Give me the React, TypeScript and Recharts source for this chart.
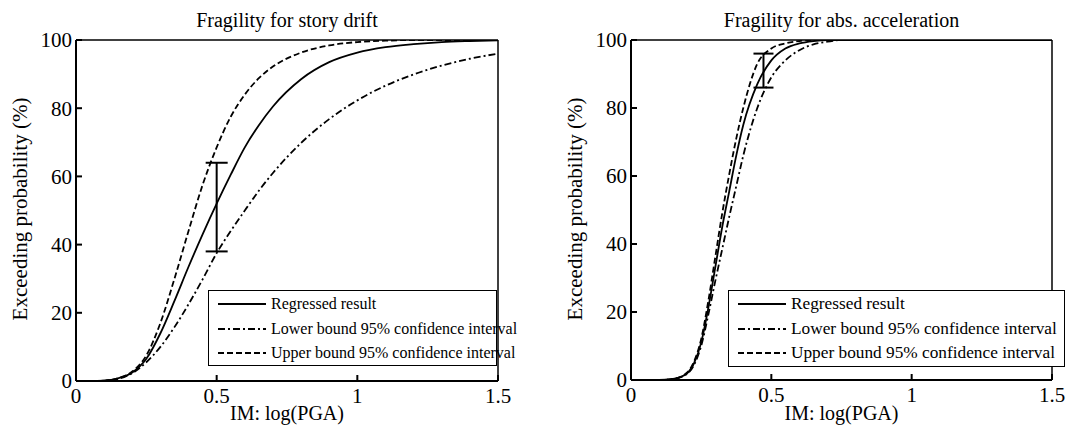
import { ComposedChart, Line, Scatter, ErrorBar, XAxis, YAxis, Legend } from 'recharts';

const FONT = '"Liberation Serif", "Times New Roman", serif';

// story drift panel
const driftIM = [0, 0.05, 0.1, 0.15, 0.2, 0.25, 0.3, 0.35, 0.4, 0.45, 0.5, 0.55, 0.6, 0.65, 0.7, 0.8, 0.9, 1.0, 1.1, 1.2, 1.3, 1.4, 1.5];
const driftRegressed = [0, 0, 0.1, 0.8, 2.5, 6.5, 14, 23.5, 33.5, 43, 52, 60.5, 68.5, 75, 80.5, 88.5, 93.5, 96.3, 97.9, 98.8, 99.4, 99.7, 99.9];
const driftLower = [0, 0, 0.1, 0.6, 2.3, 5.5, 10, 15.8, 22.5, 29.8, 37.5, 44, 50, 55.8, 61, 69.8, 76.8, 82.3, 86.6, 89.9, 92.5, 94.5, 96];
const driftUpper = [0, 0, 0.1, 0.8, 2.8, 7.5, 17, 30, 44, 57.5, 68.5, 77.5, 84, 88.8, 92.2, 96.3, 98.4, 99.4, 99.8, 100, 100, 100, 100];
const driftErr = [{ x: 0.5, y: 51, err: [13, 13] }];

// abs. acceleration panel
const accelIM = [0, 0.05, 0.1, 0.15, 0.2, 0.225, 0.25, 0.275, 0.3, 0.325, 0.35, 0.375, 0.4, 0.45, 0.5, 0.55, 0.6, 0.65, 0.7, 0.75, 0.8, 1.0, 1.5];
const accelRegressed = [0, 0, 0, 0.3, 2, 5, 11, 21, 33, 45, 55.5, 66, 75, 87, 94, 97.5, 99, 99.7, 100, 100, 100, 100, 100];
const accelLower = [0, 0, 0, 0.3, 1.8, 4.5, 10, 19, 29, 38.5, 48, 57, 66, 80, 89, 94, 97, 98.7, 99.5, 100, 100, 100, 100];
const accelUpper = [0, 0, 0, 0.3, 2.2, 5.5, 12, 23, 36, 49, 60.5, 71, 80, 93, 97.5, 99, 99.7, 100, 100, 100, 100, 100, 100];
const accelErr = [{ x: 0.472, y: 91, err: [5, 5] }];

const xTicks = [0, 0.5, 1, 1.5];
const yTicks = [0, 20, 40, 60, 80, 100];

const seriesNames = ['Regressed result', 'Lower bound 95% confidence interval', 'Upper bound 95% confidence interval'];
const seriesDash = [undefined, '7 3 2 3', '6 3'];

const tickStyle = { fill: '#000', fontSize: 21, fontFamily: FONT };

function LegendBox({ width, height, fontSize }: { width: number; height: number; fontSize: number }) {
  return (
    <div style={{ width, height, boxSizing: 'border-box', border: '1.5px solid #000', background: '#fff', fontFamily: FONT, fontSize, padding: '1px 0 0 9px' }}>
      {seriesNames.map((n, i) => (
        <div key={n} style={{ display: 'flex', alignItems: 'center', height: 24.5, whiteSpace: 'nowrap' }}>
          <svg width={48} height={6} style={{ marginRight: 5, flexShrink: 0 }}>
            <line x1={0} y1={3} x2={48} y2={3} stroke="#000" strokeWidth={1.8} strokeDasharray={seriesDash[i]} />
          </svg>
          <span>{n}</span>
        </div>
      ))}
    </div>
  );
}

type PanelProps = {
  title: string;
  im: number[];
  reg: number[];
  low: number[];
  up: number[];
  err: { x: number; y: number; err: number[] }[];
  capWidth: number;
  left: number;
  width: number;
  plotLeft: number;
  plotRight: number;
  plotBottom: number;
  legendLeft: number;
  legendWidth: number;
  legendHeight: number;
  legendFont: number;
  yLabelX: number;
};

function Panel(p: PanelProps) {
  const rows = p.im.map((x, i) => ({ x, reg: p.reg[i], low: p.low[i], up: p.up[i] }));
  const cx = (p.plotLeft + p.plotRight) / 2;
  return (
    <div style={{ position: 'absolute', left: p.left, top: 0, width: p.width, height: 436, fontFamily: FONT }}>
      <div style={{ position: 'absolute', left: cx, top: 20, transform: 'translate(-50%,-50%)', fontSize: 20, whiteSpace: 'nowrap' }}>{p.title}</div>
      <div style={{ position: 'absolute', left: cx, top: 413, transform: 'translate(-50%,-50%)', fontSize: 20, whiteSpace: 'nowrap' }}>IM: log(PGA)</div>
      <div style={{ position: 'absolute', left: p.yLabelX, top: 209, transform: 'translate(-50%,-50%) rotate(-90deg)', fontSize: 21, whiteSpace: 'nowrap' }}>Exceeding probability (%)</div>
      <ComposedChart
        width={p.width}
        height={436}
        data={rows}
        margin={{ top: 39, right: p.width - p.plotRight - 1, bottom: 436 - p.plotBottom - 30, left: p.plotLeft - 60 }}
      >
        <XAxis dataKey="x" type="number" domain={[0, 1.5]} ticks={xTicks} height={30} tickSize={-6} tickMargin={13} stroke="#000" strokeWidth={2} tick={tickStyle} allowDataOverflow />
        <XAxis xAxisId="top" orientation="top" type="number" domain={[0, 1.5]} ticks={xTicks} height={1} tickSize={-6} tick={false} stroke="#000" strokeWidth={1.5} />
        <YAxis type="number" domain={[0, 100]} ticks={yTicks} width={60} tickSize={-6} tickMargin={10} stroke="#000" strokeWidth={2} tick={tickStyle} allowDataOverflow />
        <YAxis yAxisId="right" orientation="right" type="number" domain={[0, 100]} ticks={yTicks} width={1} tickSize={-6} tick={false} stroke="#000" strokeWidth={1.5} />
        <Line dataKey="reg" name={seriesNames[0]} type="monotone" dot={false} stroke="#000" strokeWidth={1.8} isAnimationActive={false} />
        <Line dataKey="low" name={seriesNames[1]} type="monotone" dot={false} stroke="#000" strokeWidth={1.8} strokeDasharray={seriesDash[1]} isAnimationActive={false} />
        <Line dataKey="up" name={seriesNames[2]} type="monotone" dot={false} stroke="#000" strokeWidth={1.8} strokeDasharray={seriesDash[2]} isAnimationActive={false} />
        <Scatter data={p.err} dataKey="y" legendType="none" shape={() => <g />} isAnimationActive={false}>
          <ErrorBar dataKey="err" direction="y" width={p.capWidth} stroke="#000" strokeWidth={2} isAnimationActive={false} />
        </Scatter>
        <Legend
          layout="vertical"
          align="center"
          verticalAlign="middle"
          wrapperStyle={{ left: p.legendLeft, top: 290, width: p.legendWidth, height: p.legendHeight }}
          content={() => <LegendBox width={p.legendWidth} height={p.legendHeight} fontSize={p.legendFont} />}
        />
      </ComposedChart>
    </div>
  );
}

export default function App() {
  return (
    <div style={{ position: 'absolute', left: 0, top: 0, width: 1069, height: 436, background: '#fff' }}>
      <Panel
        title="Fragility for story drift"
        im={driftIM}
        reg={driftRegressed}
        low={driftLower}
        up={driftUpper}
        err={driftErr}
        capWidth={11}
        left={0}
        width={540}
        plotLeft={76}
        plotRight={498}
        plotBottom={381}
        legendLeft={208}
        legendWidth={289}
        legendHeight={76}
        legendFont={16}
        yLabelX={20}
      />
      <Panel
        title="Fragility for abs. acceleration"
        im={accelIM}
        reg={accelRegressed}
        low={accelLower}
        up={accelUpper}
        err={accelErr}
        capWidth={10}
        left={540}
        width={529}
        plotLeft={91}
        plotRight={512}
        plotBottom={380}
        legendLeft={188}
        legendWidth={337}
        legendHeight={77}
        legendFont={17.3}
        yLabelX={35}
      />
    </div>
  );
}
